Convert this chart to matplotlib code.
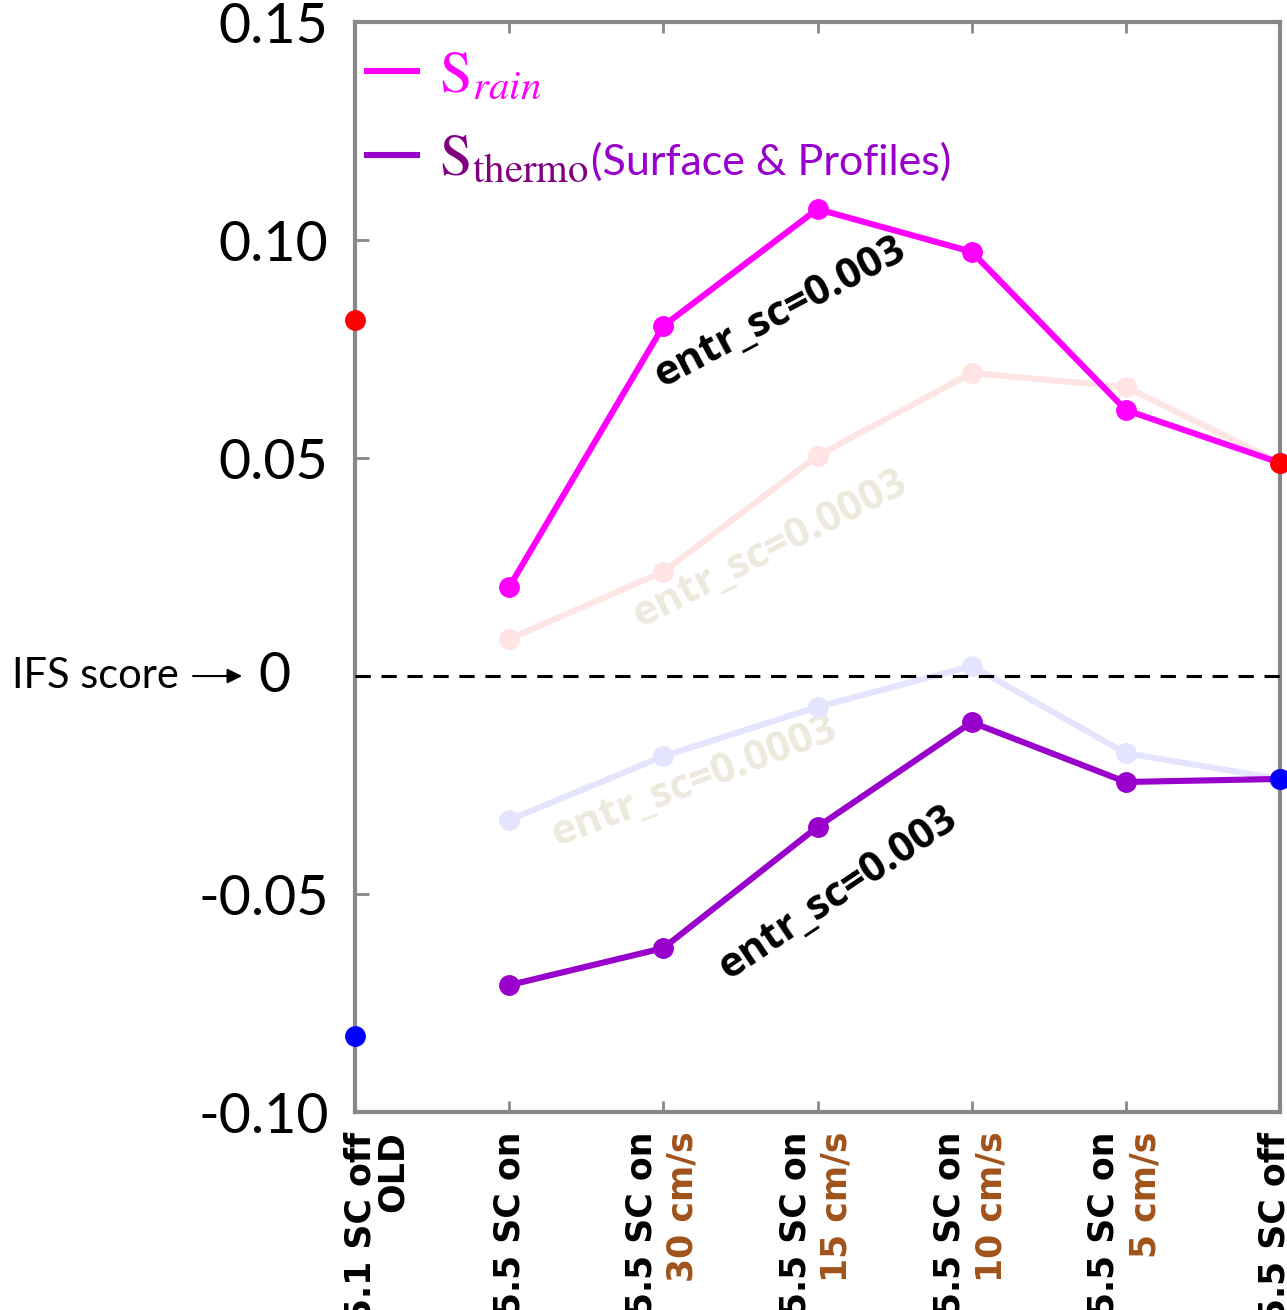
import numpy as np
import matplotlib
matplotlib.use('Agg')
import matplotlib.pyplot as plt
import matplotlib.transforms as mtransforms
from matplotlib.lines import Line2D

plt.rcParams['mathtext.fontset'] = 'stix'

# experiments along the x axis
x = np.arange(7)
xlab_top = ['5.1 SC off', '5.5 SC on', '5.5 SC on', '5.5 SC on', '5.5 SC on', '5.5 SC on', '5.5 SC off']
xlab_sub = ['OLD', '', '30 cm/s', '15 cm/s', '10 cm/s', '5 cm/s', '']

# scores, entr_sc=0.003 (bold lines)
rain_sc003 = [np.nan, 0.0204, 0.0803, 0.1071, 0.0973, 0.0610, 0.0489]
thermo_sc003 = [np.nan, -0.0709, -0.0624, -0.0346, -0.0106, -0.0243, -0.0236]
# scores, entr_sc=0.0003 (faded lines)
rain_sc0003 = [np.nan, 0.0085, 0.0239, 0.0505, 0.0695, 0.0663, 0.0489]
thermo_sc0003 = [np.nan, -0.0330, -0.0184, -0.0071, 0.0023, -0.0177, -0.0236]
# SC off reference runs
ref_x = [0, 6]
rain_ref = [0.0817, 0.0489]
thermo_ref = [-0.0826, -0.0236]

yticks = [-0.10, -0.05, 0, 0.05, 0.10, 0.15]
ytick_labels = ['-0.10', '-0.05', '', '0.05', '0.10', '0.15']

fig = plt.figure(figsize=(12.87, 13.10), dpi=100)
ax = fig.add_axes([0.2758, 0.1511, 0.7188, 0.8321])

ms = 14
lw = 4.4
ax.plot(x, rain_sc0003, color='#FFE4E4', lw=lw, marker='o', ms=ms, clip_on=False, zorder=2)
ax.plot(x, thermo_sc0003, color='#E4E4FF', lw=lw, marker='o', ms=ms, clip_on=False, zorder=2)
ax.axhline(0, color='black', ls=(0, (5, 3.5)), lw=2.2, zorder=3)
ax.plot(x, rain_sc003, color='#FF00FF', lw=lw, marker='o', ms=ms, clip_on=False, zorder=4)
ax.plot(x, thermo_sc003, color='#9900CC', lw=lw, marker='o', ms=ms, clip_on=False, zorder=4)
ax.plot(ref_x, rain_ref, 'o', color='#FF0000', ms=ms, clip_on=False, zorder=6)
ax.plot(ref_x, thermo_ref, 'o', color='#0000FF', ms=ms, clip_on=False, zorder=6)

ax.set_xlim(0, 6)
ax.set_ylim(-0.10, 0.15)
ax.set_yticks(yticks)
ax.set_yticklabels(ytick_labels, fontfamily='Lato', fontsize=40)
ax.set_xticks(x)
ax.set_xticklabels([])
ax.tick_params(axis='y', direction='in', length=10, width=2, color='#888888', pad=19)
ax.tick_params(axis='x', direction='in', length=8, width=2, color='#888888', top=True, bottom=True)
for sp in ax.spines.values():
    sp.set_color('#888888')
    sp.set_linewidth(3)

# rotated two-colour x labels
xform = mtransforms.blended_transform_factory(ax.transData, ax.transAxes)
top_dx = [4, 0, -16, -16, -16, -16, -4]
sub_dx = [27, 0, 14, 14, 14, 14, 0]
for i in range(len(x)):
    t = xform + mtransforms.ScaledTranslation(top_dx[i] / 72, -14 / 72, fig.dpi_scale_trans)
    ax.text(x[i], 0, xlab_top[i], transform=t, rotation=90, ha='center', va='top',
            fontsize=25, fontweight='bold', color='black', clip_on=False)
    if xlab_sub[i]:
        c = 'black' if xlab_sub[i] == 'OLD' else '#A0521A'
        t = xform + mtransforms.ScaledTranslation(sub_dx[i] / 72, -14 / 72, fig.dpi_scale_trans)
        ax.text(x[i], 0, xlab_sub[i], transform=t, rotation=90, ha='center', va='top',
                fontsize=25, fontweight='bold', color=c, clip_on=False)

# IFS score marker on the zero line
yx = ax.get_yaxis_transform()
ax.text(-0.3708, 0, 'IFS score', transform=yx, ha='left', va='center', fontsize=30,
        fontfamily='Lato', clip_on=False)
ax.annotate('', xy=(-0.119, 0), xytext=(-0.178, 0), xycoords=yx, textcoords=yx,
            arrowprops=dict(arrowstyle='-|>', color='black', lw=1.5, mutation_scale=22))
ax.text(-0.0865, 0, '0', transform=yx, ha='center', va='center', fontsize=40,
        fontfamily='Lato', clip_on=False)

# entr_sc annotations
ax.text(2.76, 0.0833, 'entr_sc=0.003', rotation=28, ha='center', va='center',
        fontsize=30, fontweight='bold', fontfamily='Open Sans', color='black', zorder=7)
ax.text(3.13, -0.0498, 'entr_sc=0.003', rotation=34, ha='center', va='center',
        fontsize=30, fontweight='bold', fontfamily='Open Sans', color='black', zorder=7)
ax.text(2.69, 0.0289, 'entr_sc=0.0003', rotation=27, ha='center', va='center',
        fontsize=30, fontweight='bold', fontfamily='Open Sans', color='#EDE9DD', zorder=1)
ax.text(2.20, -0.0245, 'entr_sc=0.0003', rotation=21, ha='center', va='center',
        fontsize=30, fontweight='bold', fontfamily='Open Sans', color='#EDE9DD', zorder=1)

# legend
handles = [Line2D([], [], color='#FF00FF', lw=4.4), Line2D([], [], color='#9900CC', lw=4.4)]
labels = [r'$\mathrm{S}_{rain}$', r'$\mathrm{S}_{\mathrm{thermo}}$']
leg = ax.legend(handles, labels, loc='upper left', bbox_to_anchor=(0.0, 0.988), frameon=False,
                fontsize=42, handlelength=0.86, handletextpad=0.38, labelspacing=0.45,
                borderpad=0.2, borderaxespad=0.0)
leg.get_texts()[0].set_color('#FF00FF')
leg.get_texts()[1].set_color('#800080')

fig.canvas.draw()
lt = leg.get_texts()[1]
bx = lt.get_window_extent().x1
by = lt.get_transform().transform(lt.get_position())[1]
fig.text(bx + 2, by, '(Surface & Profiles)', transform=mtransforms.IdentityTransform(),
         ha='left', va='baseline', fontsize=31, fontfamily='Lato', color='#9900CC')

fig.savefig('out.png', dpi=100)
